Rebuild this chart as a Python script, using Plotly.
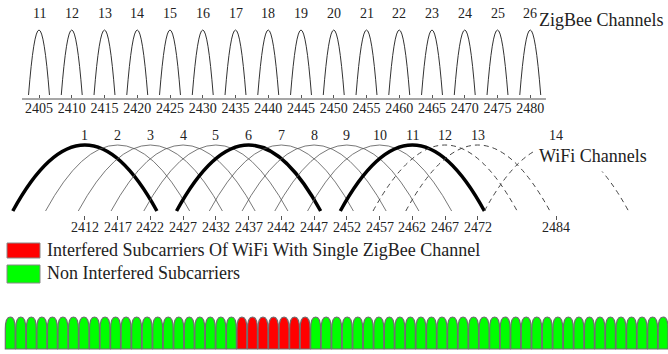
import plotly.graph_objects as go

# ---------------- data ----------------
zigbee_channels = [11, 12, 13, 14, 15, 16, 17, 18, 19, 20, 21, 22, 23, 24, 25, 26]
zigbee_freqs_mhz = [2405, 2410, 2415, 2420, 2425, 2430, 2435, 2440, 2445, 2450,
                    2455, 2460, 2465, 2470, 2475, 2480]
wifi_channels = [1, 2, 3, 4, 5, 6, 7, 8, 9, 10, 11, 12, 13, 14]
wifi_freqs_mhz = [2412, 2417, 2422, 2427, 2432, 2437, 2442, 2447, 2452, 2457,
                  2462, 2467, 2472, 2484]
wifi_non_overlapping = [1, 6, 11]
wifi_last_us_channel = 11
wifi_half_band_mhz = 11
n_subcarriers = 64
interfered_subcarriers = [22, 23, 24, 25, 26, 27, 28]
legend_labels = ["Interfered Subcarriers Of WiFi With Single ZigBee Channel",
                 "Non Interfered Subcarriers"]
panel_titles = ["ZigBee Channels", "WiFi Channels"]

# ---------------- geometry helpers (pixels of the 668x354 page) ----------------
W, H = 668, 354
SERIF = "Liberation Serif"


def py(px):
    return 1 - px / H


def pxx(px):
    return px / W


PX_PER_MHZ = 6.55
X0 = zigbee_freqs_mhz[0] - 39 / PX_PER_MHZ
X1 = X0 + W / PX_PER_MHZ

# zigbee panel: value 0 at px 95, value 1 at px 30
ZB_BASE, ZB_TOP = 95, 30
zb = lambda px: (ZB_BASE - px) / (ZB_BASE - ZB_TOP)
# wifi panel: value 0 at px 211, value 1 at px 145
WF_BASE, WF_TOP = 211, 145
wf = lambda px: (WF_BASE - px) / (WF_BASE - WF_TOP)
# subcarrier panel: value 0 at px 349, value 1 at px 317
SC_BASE, SC_TOP = 349, 317
sc = lambda px: (SC_BASE - px) / (SC_BASE - SC_TOP)
SC_LEFT, SC_PITCH = 5, 10.53

fig = go.Figure()

# invisible anchor traces so every subplot exists
fig.add_trace(go.Scatter(x=zigbee_freqs_mhz, y=[0] * len(zigbee_freqs_mhz), mode="markers",
                         marker=dict(opacity=0), hoverinfo="skip", showlegend=False,
                         xaxis="x", yaxis="y"))
fig.add_trace(go.Scatter(x=wifi_freqs_mhz, y=[0] * len(wifi_freqs_mhz), mode="markers",
                         marker=dict(opacity=0), hoverinfo="skip", showlegend=False,
                         xaxis="x2", yaxis="y2"))
fig.add_trace(go.Scatter(x=list(range(n_subcarriers)), y=[0] * n_subcarriers, mode="markers",
                         marker=dict(opacity=0), hoverinfo="skip", showlegend=False,
                         xaxis="x3", yaxis="y3"))

shapes = []
ZB_HALF = 1.6
for c in zigbee_freqs_mhz:
    shapes.append(dict(type="path", xref="x", yref="y",
                       path=f"M {c - ZB_HALF},0 Q {c},2 {c + ZB_HALF},0",
                       line=dict(color="#333333", width=1)))
# zigbee base line
shapes.append(dict(type="line", xref="x", yref="y",
                   x0=zigbee_freqs_mhz[0] - 2.6, x1=zigbee_freqs_mhz[-1] + 2.4,
                   y0=zb(99), y1=zb(99), line=dict(color="#8a8a8a", width=1.5)))

for ch, c in zip(wifi_channels, wifi_freqs_mhz):
    if ch in wifi_non_overlapping:
        line = dict(color="black", width=3.5)
    elif ch > wifi_last_us_channel:
        line = dict(color="#444444", width=1, dash="5px,4px")
    else:
        line = dict(color="#555555", width=0.8)
    shapes.append(dict(type="path", xref="x2", yref="y2",
                       path=f"M {c - wifi_half_band_mhz},0 Q {c},2 {c + wifi_half_band_mhz},0",
                       line=line))

# subcarrier bullets
g = 0.03
shoulder = sc(329)
for i in range(n_subcarriers):
    u0, u1, um = i + g, i + 1 - g, i + 0.5
    col = "#ff0000" if i in interfered_subcarriers else "#00ff00"
    path = (f"M {u0},0 L {u0},{shoulder} Q {u0},1 {um},1 Q {u1},1 {u1},{shoulder} "
            f"L {u1},0 Z")
    shapes.append(dict(type="path", xref="x3", yref="y3", path=path,
                       fillcolor=col, line=dict(color="#6e6e6e", width=1.2)))

# legend boxes
shapes.append(dict(type="rect", xref="paper", yref="paper",
                   x0=pxx(7), x1=pxx(40), y0=py(258), y1=py(243),
                   fillcolor="#ff0000", line=dict(color="#888888", width=1)))
shapes.append(dict(type="rect", xref="paper", yref="paper",
                   x0=pxx(7), x1=pxx(40), y0=py(283), y1=py(265),
                   fillcolor="#00ff00", line=dict(color="#888888", width=1)))

num_font = dict(family=SERIF, size=14, color="#222")
big_font = dict(family=SERIF, size=18, color="#222")
annotations = []
for ch, c in zip(zigbee_channels, zigbee_freqs_mhz):
    annotations.append(dict(x=c, xref="x", y=py(13), yref="paper", text=str(ch),
                            xanchor="center", yanchor="middle",
                            showarrow=False, font=num_font))
for ch, c in zip(wifi_channels, wifi_freqs_mhz):
    annotations.append(dict(x=c, xref="x2", y=py(135), yref="paper", text=str(ch),
                            xanchor="center", yanchor="middle",
                            showarrow=False, font=num_font))
for c in wifi_freqs_mhz:
    annotations.append(dict(x=c, xref="x2", y=py(228), yref="paper", text=str(c),
                            xanchor="center", yanchor="middle",
                            showarrow=False, font=num_font))
annotations.append(dict(x=pxx(601), xref="paper", y=py(20), yref="paper", text=panel_titles[0],
                        xanchor="center", yanchor="middle",
                        showarrow=False, font=big_font))
annotations.append(dict(x=pxx(593), xref="paper", y=py(156), yref="paper", text=panel_titles[1],
                        xanchor="center", yanchor="middle",
                        showarrow=False, bgcolor="white", borderpad=5, font=big_font))
annotations.append(dict(x=pxx(45), xref="paper", xanchor="left", yanchor="middle",
                        y=py(250), yref="paper",
                        text=legend_labels[0], showarrow=False, font=big_font))
annotations.append(dict(x=pxx(45), xref="paper", xanchor="left", yanchor="middle",
                        y=py(273), yref="paper",
                        text=legend_labels[1], showarrow=False, font=big_font))

axis_common = dict(showgrid=False, zeroline=False, showline=False, fixedrange=True)

fig.update_layout(
    width=W, height=H,
    margin=dict(l=0, r=0, t=0, b=0),
    paper_bgcolor="white", plot_bgcolor="white",
    showlegend=False,
    shapes=shapes,
    annotations=annotations,
    xaxis=dict(**axis_common, domain=[0, 1], range=[X0, X1], anchor="free", position=py(98),
               tickmode="array", tickvals=zigbee_freqs_mhz,
               ticktext=[str(f) for f in zigbee_freqs_mhz],
               ticks="inside", ticklen=3, tickcolor="#555", tickwidth=1,
               tickfont=num_font),
    yaxis=dict(**axis_common, visible=False, domain=[py(104), py(20)],
               range=[zb(104), zb(20)], anchor="x"),
    xaxis2=dict(**axis_common, domain=[0, 1], range=[X0, X1], anchor="free", position=py(215),
                tickmode="array", tickvals=wifi_freqs_mhz, showticklabels=False,
                ticks="outside", ticklen=4, tickcolor="#555", tickwidth=1),
    yaxis2=dict(**axis_common, visible=False, domain=[py(216), py(130)],
                range=[wf(216), wf(130)], anchor="x2"),
    xaxis3=dict(**axis_common, visible=False, domain=[0, 1],
                range=[(0 - SC_LEFT) / SC_PITCH, (W - SC_LEFT) / SC_PITCH], anchor="y3"),
    yaxis3=dict(**axis_common, visible=False, domain=[py(353), py(312)],
                range=[sc(353), sc(312)], anchor="x3"),
)

fig.write_html("out.html",
               config={"displayModeBar": False},
               post_script="document.body.style.margin='0';"
                           "document.body.style.overflow='hidden';")
